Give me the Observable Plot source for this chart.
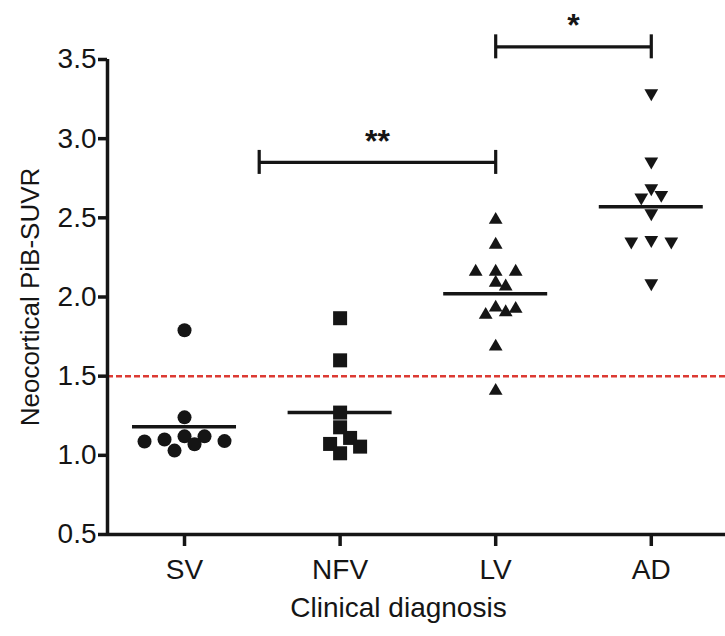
<!DOCTYPE html>
<html>
<head>
<meta charset="utf-8">
<script src="https://cdn.jsdelivr.net/npm/d3@7"></script>
<script src="https://cdn.jsdelivr.net/npm/@observablehq/plot@0.6"></script>
<style>
  html, body { margin: 0; padding: 0; background: #fff; }
  #chart { width: 725px; height: 636px; overflow: hidden; }
</style>
</head>
<body>
<div id="chart"></div>
<script>
// ---- data ----
const categories = ["SV", "NFV", "LV", "AD"];
const svValues  = [1.79, 1.24, 1.12, 1.12, 1.10, 1.09, 1.087, 1.07, 1.03];
const nfvValues = [1.866, 1.60, 1.27, 1.177, 1.11, 1.072, 1.055, 1.013];
const lvValues  = [2.487, 2.33, 2.16, 2.16, 2.16, 2.09, 2.066, 1.933, 1.925, 1.904, 1.887, 1.687, 1.407];
const adValues  = [3.287, 2.856, 2.687, 2.645, 2.628, 2.529, 2.36, 2.35, 2.35, 2.087];
const meanValues = [1.18, 1.27, 2.02, 2.57];
const thresholdValue = 1.5;
const yTicks = [0.5, 1.0, 1.5, 2.0, 2.5, 3.0, 3.5];
const yTickLabels = ["0.5", "1.0", "1.5", "2.0", "2.5", "3.0", "3.5"];
const bracketFrom = [0.48, 2];
const bracketTo = [2, 3];
const bracketLevel = [2.85, 3.58];
const bracketLabels = ["**", "*"];
const yTitle = "Neocortical PiB-SUVR";
const xTitle = "Clinical diagnosis";

// ---- layout ----
const width = 725, height = 636;
const marginLeft = 107, marginRight = 0, marginTop = 59, marginBottom = 102;
const xDomain = [-0.495, 3.477];
const yDomain = [0.5, 3.5];
const xPx = (width - marginLeft - marginRight) / (xDomain[1] - xDomain[0]);
const yPx = (height - marginTop - marginBottom) / (yDomain[1] - yDomain[0]);

const symbols = ["circle", "square", "triangle", "triangle"];
const radii = [7, 7.9, 5.1, 5.1];
const markerSize = [14, 14, 12, 12];
const rotations = [0, 0, 0, 180];
const groups = [svValues, nfvValues, lvValues, adValues];

// simple beeswarm layout: points placed in descending order at the
// nearest free horizontal slot
function swarm(values, idx) {
  const grid = 10;
  const minDist = markerSize[idx] * 0.85;
  const cands = [0];
  for (let k = 1; k <= 8; k++) cands.push(k * grid, -k * grid);
  const order = values.map((v, j) => j).sort((a, b) => values[b] - values[a]);
  const placed = [];
  const out = [];
  for (const j of order) {
    const py = values[j] * yPx;
    let off = 0;
    for (const c of cands) {
      if (placed.every(p => Math.hypot(p.ox - c, p.py - py) >= minDist)) { off = c; break; }
    }
    placed.push({ox: off, py});
    out.push({group: categories[idx], value: values[j], x: idx + off / xPx});
  }
  return out;
}

const pointSets = groups.map((vals, i) => swarm(vals, i));
const meanHalf = 52 / xPx;
const capHalf = 12 / yPx;
const brackets = bracketLabels.map((label, i) => ({
  from: bracketFrom[i], to: bracketTo[i], level: bracketLevel[i], label
}));
const bracketCaps = brackets.flatMap(b => [{x: b.from, level: b.level}, {x: b.to, level: b.level}]);
const means = meanValues.map((v, i) => ({i, v}));

const fontFamily = "'Liberation Sans', Arial, Helvetica, sans-serif";
const ink = "#151515";

const chart = Plot.plot({
  width, height, marginLeft, marginRight, marginTop, marginBottom,
  style: {fontFamily, background: "#fff", color: ink, overflow: "visible"},
  x: {domain: xDomain},
  y: {domain: yDomain},
  marks: [
    Plot.ruleY([thresholdValue], {stroke: "#dc3a33", strokeWidth: 2.5, strokeDasharray: "6,3"}),
    Plot.axisY({
      ticks: yTicks, tickFormat: (d) => yTickLabels[yTicks.indexOf(d)],
      tickSize: 9, tickPadding: 2, fontSize: 28, strokeWidth: 3.5, label: null, stroke: ink, fill: ink
    }),
    Plot.axisX({
      ticks: [0, 1, 2, 3], tickFormat: (i) => categories[i],
      tickSize: 12, tickPadding: 13, fontSize: 28, strokeWidth: 3.5, label: null, stroke: ink, fill: ink
    }),
    Plot.ruleX([xDomain[0]], {y1: yDomain[0], y2: yDomain[1], stroke: ink, strokeWidth: 3.5}),
    Plot.ruleY([yDomain[0]], {stroke: ink, strokeWidth: 3.5}),
    Plot.ruleY(means, {y: "v", x1: d => d.i - meanHalf, x2: d => d.i + meanHalf, stroke: ink, strokeWidth: 3.5}),
    ...pointSets.map((pts, i) => Plot.dot(pts, {
      x: "x", y: "value", symbol: symbols[i], r: radii[i], fill: ink, stroke: "none", rotate: rotations[i]
    })),
    Plot.ruleY(brackets, {y: "level", x1: "from", x2: "to", stroke: ink, strokeWidth: 3.2}),
    Plot.ruleX(bracketCaps, {x: "x", y1: d => d.level - capHalf, y2: d => d.level + capHalf, stroke: ink, strokeWidth: 3.2}),
    Plot.text(brackets, {x: d => (d.from + d.to) / 2, y: "level", text: "label", dy: -21, fontSize: 32, fontWeight: "bold", fill: ink}),
    Plot.text([yTitle], {text: d => d, frameAnchor: "left", textAnchor: "middle", lineAnchor: "middle", rotate: -90, dx: -77, fontSize: 26, fill: ink}),
    Plot.text([xTitle], {text: d => d, frameAnchor: "bottom", textAnchor: "middle", lineAnchor: "middle", dy: 74, dx: -18, fontSize: 28, fill: ink})
  ]
});
document.getElementById("chart").appendChild(chart);
</script>
</body>
</html>
